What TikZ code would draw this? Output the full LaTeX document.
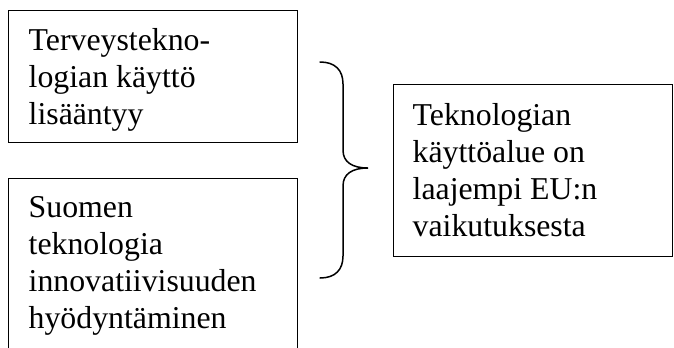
\documentclass[tikz,border=0pt]{standalone}
\usepackage{fontspec}
\setmainfont{Liberation Serif}
\begin{document}
\begin{tikzpicture}[x=1bp,y=-1bp,
  box/.style={draw, line width=0.9bp, inner sep=0pt, anchor=north west},
  txt/.style={inner sep=0pt, anchor=base west, font=\fontsize{31.8bp}{37.3bp}\selectfont},
  bracestyle/.style={line width=1.5bp, line cap=round}]
\useasboundingbox (0,0) rectangle (674,347);
% boxes
\node[box, minimum width=289bp, minimum height=132bp] (b1) at (8,10) {};
\node[box, draw=none, minimum width=289bp, minimum height=169bp] (b2) at (8,178) {};
\draw[line width=0.9bp] (b2.south west) -- (b2.north west) -- (b2.north east) -- (b2.south east);
\node[box, minimum width=279bp, minimum height=172bp] (b3) at (393,84) {};
% texts
\node[txt] (t1) at (28.5,50) {\parbox[t]{260bp}{\raggedright Terveystekno-\\logian käyttö\\lisääntyy}};
\node[txt] (t2) at (28.5,217) {\parbox[t]{260bp}{\raggedright Suomen\\teknologia\\innovatiivisuuden\\hyödyntäminen}};
\node[txt] (t3) at (412.5,125) {\parbox[t]{250bp}{\raggedright Teknologian\\käyttöalue on\\laajempi EU:n\\vaikutuksesta}};
% brace
\coordinate (btop) at (320,62);
\coordinate (btip) at (368,168);
\coordinate (bbot) at (320,278);
\draw[bracestyle] (btop) .. controls (335,62) and (343,70) .. (343,84)
  -- (343,150) .. controls (343,162) and (352,168) .. (btip)
  .. controls (352,168) and (343,174) .. (343,186)
  -- (343,256) .. controls (343,270) and (335,278) .. (bbot);
\end{tikzpicture}
\end{document}
